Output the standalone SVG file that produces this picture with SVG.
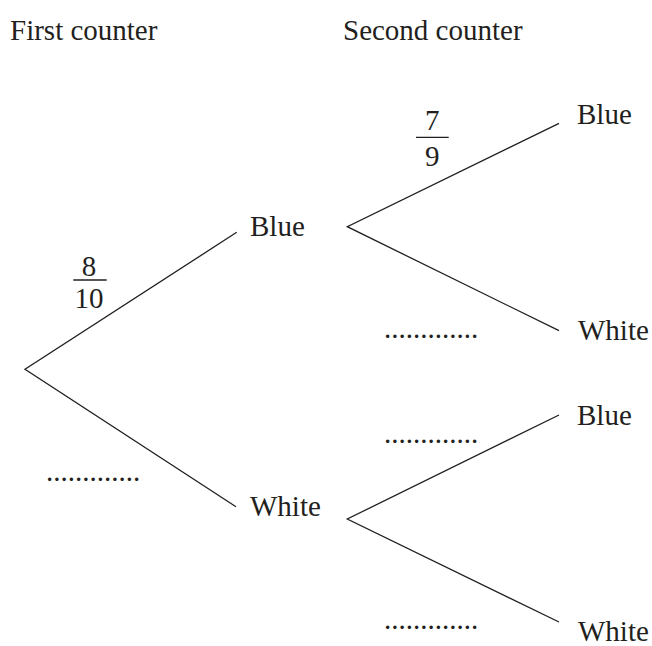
<svg xmlns="http://www.w3.org/2000/svg" width="652" height="646" viewBox="0 0 652 646">
<style>
text { font-family: "Liberation Serif", "Times New Roman", serif; font-size: 29px; fill: #231f20; }
.c { text-anchor: middle; }
.br { stroke: #231f20; stroke-width: 1.3; fill: none; }
.bar { stroke: #231f20; stroke-width: 1.3; }
</style>
<rect width="652" height="646" fill="#ffffff"/>
<g id="headers">
<text x="10" y="40">First counter</text>
<text x="343" y="40">Second counter</text>
</g>
<g id="connectors">
<polyline class="br" points="236.7,232.3 25,369.3 236,506.7"/>
<polyline class="br" points="559,123.3 347.3,226.7 559,330.7"/>
<polyline class="br" points="559,415 347.3,519 559,622"/>
</g>
<g id="node-first-blue"><text x="250" y="236">Blue</text></g>
<g id="node-first-white"><text x="250" y="516">White</text></g>
<g id="node-blue-blue"><text x="577" y="124">Blue</text></g>
<g id="node-blue-white"><text x="578" y="340">White</text></g>
<g id="node-white-blue"><text x="577" y="425">Blue</text></g>
<g id="node-white-white"><text x="578" y="641">White</text></g>
<g id="label-8-10">
<text class="c" x="89" y="276">8</text>
<line class="bar" x1="73.3" y1="280" x2="106.7" y2="280"/>
<text class="c" x="89" y="308">10</text>
</g>
<g id="label-7-9">
<text class="c" x="432.3" y="130">7</text>
<line class="bar" x1="416" y1="137.3" x2="448.7" y2="137.3"/>
<text class="c" x="432.3" y="166">9</text>
</g>
<g id="label-blanks">
<text x="46" y="481">.............</text>
<text x="384" y="338">.............</text>
<text x="384" y="443">.............</text>
<text x="384" y="629">.............</text>
</g>
</svg>
